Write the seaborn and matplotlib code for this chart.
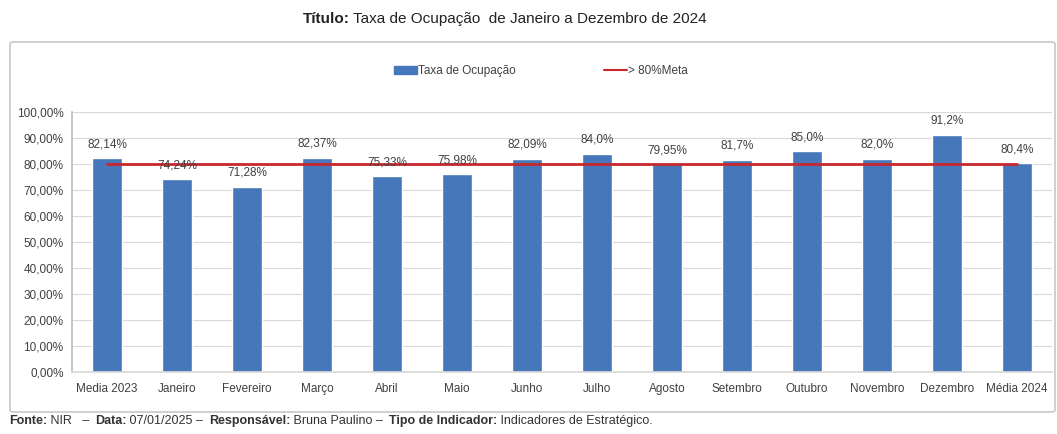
import matplotlib
matplotlib.use("Agg")
import matplotlib.pyplot as plt
import seaborn as sns
import pandas as pd
from matplotlib.patches import FancyBboxPatch, Patch
from matplotlib.lines import Line2D
from matplotlib.ticker import FuncFormatter

categories = ["Media 2023", "Janeiro", "Fevereiro", "Março", "Abril", "Maio", "Junho",
              "Julho", "Agosto", "Setembro", "Outubro", "Novembro", "Dezembro", "Média 2024"]
taxa = [82.14, 74.24, 71.28, 82.37, 75.33, 75.98, 82.09, 84.0, 79.95, 81.7, 85.0, 82.0, 91.2, 80.4]
labels = ["82,14%", "74,24%", "71,28%", "82,37%", "75,33%", "75,98%", "82,09%",
          "84,0%", "79,95%", "81,7%", "85,0%", "82,0%", "91,2%", "80,4%"]
meta = [80] * len(categories)

sns.set_theme(style="white")
plt.rcParams["font.family"] = ["Liberation Sans", "DejaVu Sans"]

BAR = "#4677bb"
RED = "#c8282d"
TXT = "#404040"

fig = plt.figure(figsize=(10.57, 4.34), dpi=100)
W, H = 1057, 434

# outer chart frame
frame = FancyBboxPatch((10 / W, 1 - 412 / H), 1045 / W, 370 / H,
                       boxstyle="round,pad=0,rounding_size=0.004",
                       transform=fig.transFigure, fill=False,
                       edgecolor="#c8c8c8", linewidth=1.2)
fig.patches.append(frame)

ax = fig.add_axes([72 / W, 1 - 372 / H, 980 / W, 260 / H])
df = pd.DataFrame({"cat": categories, "taxa": taxa, "meta": meta})
sns.barplot(data=df, x="cat", y="taxa", color=BAR, width=0.43, saturation=1, ax=ax, zorder=2)
ax.plot(df["cat"], df["meta"], color=RED, linewidth=2, zorder=3)

ax.set_ylim(0, 100)
ax.set_xlim(-0.5, len(categories) - 0.5)
ax.set_yticks(range(0, 101, 10))
ax.yaxis.set_major_formatter(FuncFormatter(lambda v, p: f"{v:.2f}%".replace(".", ",")))
ax.grid(axis="y", color="#d9d9d9", linewidth=0.8, zorder=0)
ax.set_axisbelow(True)
for s in ["top", "right"]:
    ax.spines[s].set_visible(False)
ax.spines["left"].set_color("#bfbfbf")
ax.spines["bottom"].set_color("#d9d9d9")
ax.set_xlabel("")
ax.set_ylabel("")
ax.tick_params(axis="both", labelsize=8.5, colors=TXT, length=0)
ax.tick_params(axis="y", pad=6)
ax.tick_params(axis="x", pad=8)

for i, (v, lab) in enumerate(zip(taxa, labels)):
    ax.annotate(lab, (i, v), xytext=(0, 10), textcoords="offset points",
                ha="center", va="center", fontsize=8.5, color=TXT, zorder=4)

# legend
handles = [Patch(facecolor=BAR, edgecolor=BAR), Line2D([0], [0], color=RED, linewidth=1.5)]
leg = fig.legend(handles, ["Taxa de Ocupação", "> 80%Meta"], loc="center",
                 bbox_to_anchor=(541 / W, 1 - 71 / H), ncol=2, frameon=False,
                 fontsize=8.5, handlelength=1.9, handletextpad=0.1, columnspacing=7.5)
for t in leg.get_texts():
    t.set_color(TXT)

# title (bold + normal parts)
fig.text(350 / W, 1 - 19 / H, "Título:", ha="right", va="center", fontsize=11,
         fontweight="bold", color="#222222")
fig.text(353 / W, 1 - 19 / H, "Taxa de Ocupação  de Janeiro a Dezembro de 2024", ha="left",
         va="center", fontsize=11, color="#222222")

# footer with mixed bold/normal runs
fig.canvas.draw()
renderer = fig.canvas.get_renderer()
parts = [("Fonte:", True), (" NIR   – ", False), ("Data:", True), (" 07/01/2025 – ", False),
         ("Responsável:", True), (" Bruna Paulino – ", False), ("Tipo de Indicador:", True),
         (" Indicadores de Estratégico.", False)]
x = 9
for txt, bold in parts:
    t = fig.text(x / W, 1 - 421 / H, txt, ha="left", va="center", fontsize=9,
                 fontweight="bold" if bold else "normal", color="#333333")
    bb = t.get_window_extent(renderer=renderer)
    x += bb.width + (2 if txt.endswith(" ") else 0)

fig.savefig("out.png", dpi=100)
